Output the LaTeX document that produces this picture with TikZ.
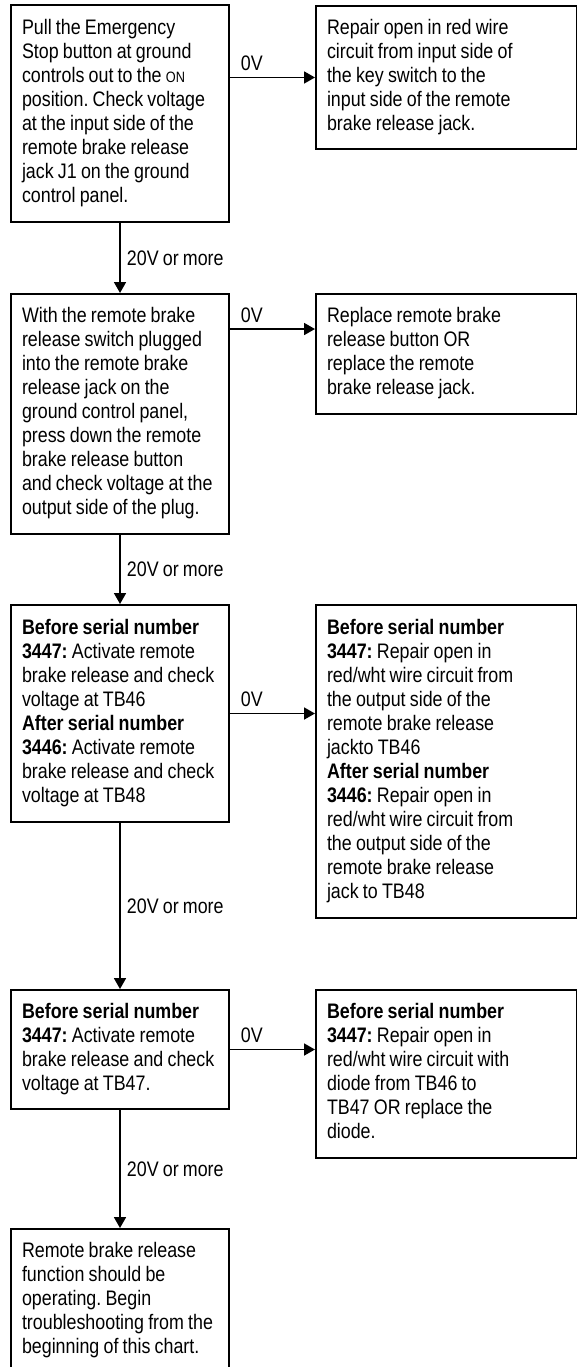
\documentclass[tikz,border=0pt]{standalone}
\usepackage{fontspec}
\setmainfont{Liberation Sans}[FakeStretch=0.85,WordSpace=0.85]
\usetikzlibrary{arrows.meta,calc}
\frenchspacing
\newcommand{\lines}[1]{\begin{tabular}{@{}l@{}}#1\end{tabular}}
\begin{document}
\begin{tikzpicture}[x=1pt,y=-1pt,
  every node/.style={font=\fontsize{21}{24}\selectfont\frenchspacing},
  lbox/.style={draw,line width=2pt,rectangle,anchor=north west,align=flush left,
    text width=196pt,inner xsep=11pt,inner ysep=0pt,minimum width=218pt},
  rbox/.style={draw,line width=2pt,rectangle,anchor=north west,align=flush left,
    text width=239pt,inner xsep=11pt,inner ysep=0pt,minimum width=261pt},
  conn/.style={line width=1.8pt,-{Triangle[length=11pt,width=12pt]}},
  vlab/.style={midway,right,inner sep=0pt,xshift=6pt},
  hlab/.style={pos=0,anchor=base west,inner sep=0pt,xshift=10pt,yshift=7pt}]
\useasboundingbox (0,0) rectangle (577,1367);
\clip (0,0) rectangle (577,1367);

\node[lbox,minimum height=217pt] (A) at (10,4) {\lines{Pull the Emergency\\Stop button at ground\\controls out to the {\fontsize{15}{24}\selectfont ON}\\position. Check voltage\\at the input side of the\\remote brake release\\jack J1 on the ground\\control panel.}};
\node[rbox,minimum height=143pt] (A2) at (315,5) {\lines{Repair open in red wire\\circuit from input side of\\the key switch to the\\input side of the remote\\brake release jack.}};

\node[lbox,minimum height=240pt] (B) at (10,293) {\lines{With the remote brake\\release switch plugged\\into the remote brake\\release jack on the\\ground control panel,\\press down the remote\\brake release button\\and check voltage at the\\output side of the plug.}};
\node[rbox,minimum height=120pt] (B2) at (315,293) {\lines{Replace remote brake\\release button OR\\replace the remote\\brake release jack.}};

\node[lbox,minimum height=217pt] (C) at (10,604) {\lines{\textbf{Before serial number}\\\textbf{3447:} Activate remote\\brake release and check\\voltage at TB46\\\textbf{After serial number}\\\textbf{3446:} Activate remote\\brake release and check\\voltage at TB48}};
\node[rbox,minimum height=313pt] (C2) at (315,604) {\lines{\textbf{Before serial number}\\\textbf{3447:} Repair open in\\red/wht wire circuit from\\the output side of the\\remote brake release\\jackto TB46\\\textbf{After serial number}\\\textbf{3446:} Repair open in\\red/wht wire circuit from\\the output side of the\\remote brake release\\jack to TB48}};

\node[lbox,minimum height=119pt] (D) at (10,989) {\lines{\textbf{Before serial number}\\\textbf{3447:} Activate remote\\brake release and check\\voltage at TB47.}};
\node[rbox,minimum height=168pt] (D2) at (315,989) {\lines{\textbf{Before serial number}\\\textbf{3447:} Repair open in\\red/wht wire circuit with\\diode from TB46 to\\TB47 OR replace the\\diode.}};

\node[lbox,minimum height=144pt] (E) at (10,1228) {\lines{Remote brake release\\function should be\\operating. Begin\\troubleshooting from the\\beginning of this chart.}};

\draw[conn] (A.east |- A2.west) -- node[hlab]{0V} (A2.west);
\draw[conn] ($(B.north east)+(0,36)$) -- node[hlab]{0V} ($(B2.north west)+(0,36)$);
\draw[conn] (C.east) -- node[hlab]{0V} (C.east -| C2.west);
\draw[conn] (D.east) -- node[hlab]{0V} (D.east -| D2.west);

\draw[conn] (A.south) -- node[vlab]{20V or more} (B.north);
\draw[conn] (B.south) -- node[vlab]{20V or more} (C.north);
\draw[conn] (C.south) -- node[vlab]{20V or more} (D.north);
\draw[conn] (D.south) -- node[vlab]{20V or more} (E.north);
\end{tikzpicture}
\end{document}
